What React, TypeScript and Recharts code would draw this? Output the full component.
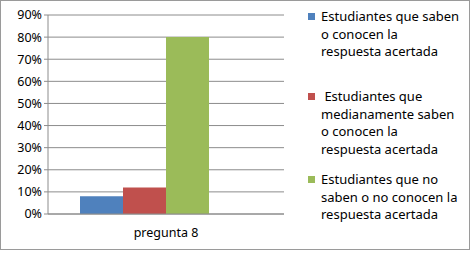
import React from 'react'
import { BarChart, Bar, XAxis, YAxis, CartesianGrid } from 'recharts'

const CATEGORIES = ['pregunta 8']
const SABEN = [0.08]
const MEDIANAMENTE = [0.12]
const NO_SABEN = [0.8]
// empty fourth series in the original sheet (keeps the bar group shifted left)
const VACIA = [null]
const Y_TICKS = [0, 0.1, 0.2, 0.3, 0.4, 0.5, 0.6, 0.7, 0.8, 0.9]

const SERIES = [
  { key: 'saben', color: '#4F81BD', lines: ['Estudiantes que saben', 'o conocen la', 'respuesta acertada'] },
  {
    key: 'medianamente',
    color: '#C0504D',
    lines: [' Estudiantes que', 'medianamente saben', 'o conocen la', 'respuesta acertada'],
  },
  { key: 'noSaben', color: '#9BBB59', lines: ['Estudiantes que no', 'saben o no conocen la', 'respuesta acertada'] },
]

const data = CATEGORIES.map((name, i) => ({
  name,
  saben: SABEN[i],
  medianamente: MEDIANAMENTE[i],
  noSaben: NO_SABEN[i],
  vacia: VACIA[i],
}))

const FONT = '"Noto Sans", "DejaVu Sans", sans-serif'
const ITEM_TOPS = [8, 88, 171]

function LegendBox() {
  return (
    <div
      style={{
        position: 'absolute',
        left: 305,
        top: 0,
        width: 165,
        height: 240,
        fontFamily: FONT,
        fontSize: 13,
        color: '#000',
      }}
    >
      {SERIES.map((s, i) => (
        <div key={s.key} style={{ position: 'absolute', left: 0, top: ITEM_TOPS[i] }}>
          <div style={{ position: 'absolute', left: 3, top: 5, width: 7, height: 7, background: s.color }} />
          <div style={{ marginLeft: 16, lineHeight: '17.5px', whiteSpace: 'pre' }}>
            {s.lines.map((l, j) => (
              <div key={j}>{l}</div>
            ))}
          </div>
        </div>
      ))}
    </div>
  )
}

export default function App() {
  return (
    <div style={{ position: 'absolute', left: 0, top: 0, width: 473, height: 253, background: '#fff' }}>
      <div
        style={{
          position: 'absolute',
          left: 0,
          top: 0,
          width: 470,
          height: 250,
          border: '1px solid #9a9a9a',
          boxSizing: 'border-box',
        }}
      />
      <BarChart
        width={473}
        height={253}
        data={data}
        margin={{ top: 15, right: 189, bottom: 9, left: 0 }}
        barCategoryGap={32}
        barGap={0}
      >
        <CartesianGrid vertical={false} stroke="#8c8c8c" />
        <XAxis
          dataKey="name"
          height={30}
          stroke="#8c8c8c"
          tickLine={false}
          tick={{ fill: '#000', fontSize: 12.5, fontFamily: FONT, dy: 6 }}
        />
        <YAxis
          width={48}
          domain={[0, 0.9]}
          ticks={Y_TICKS}
          stroke="#8c8c8c"
          tickSize={4}
          tickFormatter={(v: number) => `${Math.round(v * 100)}%`}
          tick={{ fill: '#000', fontSize: 12.5, fontFamily: FONT }}
          interval={0}
        />
        {SERIES.map((s) => (
          <Bar key={s.key} dataKey={s.key} fill={s.color} isAnimationActive={false} />
        ))}
        <Bar dataKey="vacia" fill="#000" isAnimationActive={false} />
      </BarChart>
      <LegendBox />
    </div>
  )
}
